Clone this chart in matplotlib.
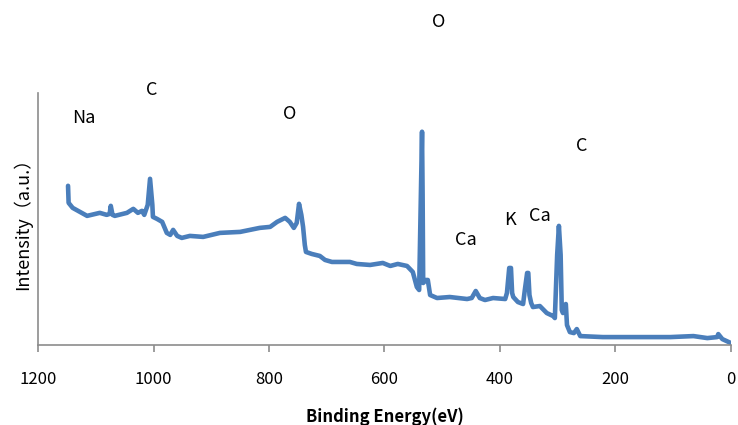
import matplotlib
matplotlib.use('Agg')
import matplotlib.pyplot as plt

plt.rcParams['font.family'] = ['Noto Sans CJK JP', 'DejaVu Sans']

# binding energy (eV) and intensity (a.u.)
energy = [1148, 1147, 1140, 1115, 1093, 1081, 1076, 1074, 1071, 1067, 1046, 1035, 1027,
          1020, 1016, 1010, 1006, 1002, 1001, 994, 985, 977, 971, 966, 959, 951,
          937, 914, 885, 850, 816, 798, 786, 772, 764, 757, 752, 748, 744, 741, 738, 736,
          726, 712, 703, 691, 660, 648, 625, 603, 590, 577, 561, 551, 544,
          540, 537, 535, 534, 533, 528, 525, 521, 509, 487, 457, 449, 442, 435,
          426, 412, 391, 388, 384, 381, 379, 377, 369, 360, 357, 353, 351, 349, 346, 343,
          331, 319, 308, 305, 301, 298, 295, 293, 291, 286, 284, 279, 272,
          267, 261, 222, 162, 105, 65, 41, 24, 22, 15, 0]
intensity = [159, 142, 137, 129, 132, 130, 131, 139, 130, 129, 132, 136, 132,
             134, 130, 140, 166, 140, 128, 126, 123, 112, 110, 115, 109, 107,
             109, 108, 112, 113, 117, 118, 123, 127, 123, 117, 122, 141, 130, 118, 100, 93,
             91, 89, 85, 83, 83, 81, 80, 82, 79, 81, 79, 73, 58,
             55, 150, 213, 150, 62, 65, 65, 50, 47, 48, 46, 47, 54, 47,
             45, 47, 46, 52, 77, 77, 52, 48, 43, 41, 55, 72, 72, 50, 42, 38,
             39, 32, 29, 27, 90, 119, 90, 35, 32, 41, 20, 13, 12,
             16, 9, 8, 8, 8, 9, 7, 8, 11, 6, 2]

# element labels placed over the peaks
peak_names = ['Na', 'C', 'O', 'O', 'Ca', 'K', 'Ca', 'C']
peak_x = [1120, 1003, 764, 507, 459, 383, 331, 258]
peak_y = [227, 255, 231, 323, 105, 125, 129, 199]

xticks = [1200, 1000, 800, 600, 400, 200, 0]

fig = plt.figure(figsize=(7.38, 4.25), dpi=100)
ax = fig.add_axes([0.0515, 0.188, 0.939, 0.594])

ax.plot(energy, intensity, color='#4a7ebb', linewidth=3.3,
        solid_joinstyle='round', solid_capstyle='round')

for name, x, y in zip(peak_names, peak_x, peak_y):
    ax.text(x, y, name, ha='center', va='center', fontsize=13, color='black', clip_on=False)

ax.set_xlim(1200, 0)
ax.set_ylim(0, 252)
ax.set_xticks(xticks)
ax.set_yticks([])

for s in ['top', 'right']:
    ax.spines[s].set_visible(False)
for s in ['left', 'bottom']:
    ax.spines[s].set_color('#8c8c8c')
    ax.spines[s].set_linewidth(1.2)

ax.tick_params(axis='x', direction='out', length=5, width=1.2, color='#8c8c8c',
               labelsize=12, pad=14)

ax.set_xlabel('Binding Energy(eV)', fontsize=12, fontweight='bold', labelpad=14)
ax.set_ylabel('Intensity（a.u.）', fontsize=13, labelpad=4)

fig.savefig('out.png', dpi=100)
